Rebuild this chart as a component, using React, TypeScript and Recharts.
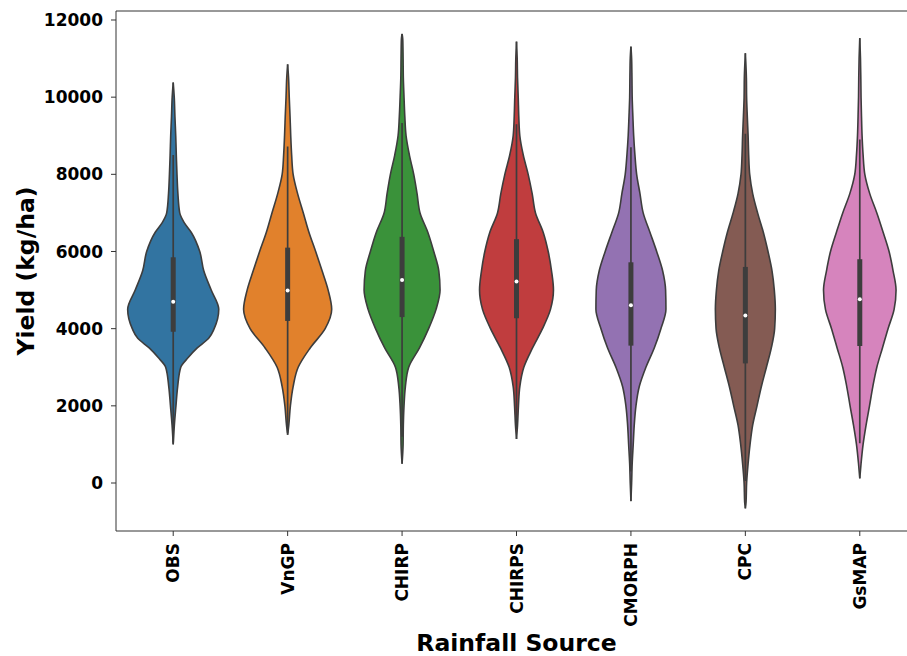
import { ComposedChart, Area, XAxis, YAxis, ReferenceLine, ReferenceDot, Label } from 'recharts'

const sources = ['OBS', 'VnGP', 'CHIRP', 'CHIRPS', 'CMORPH', 'CPC', 'GsMAP']
const colors = ['#3274a1', '#e1812c', '#3a923a', '#c03d3e', '#9372b2', '#845b53', '#d684bd']
const yieldTicks = [0, 2000, 4000, 6000, 8000, 10000, 12000]

// violin outlines: yield level (kg/ha) and half width (fraction of one category slot)
const obsYield = [10380, 10000, 9500, 9000, 8500, 8000, 7500, 7000, 6750, 6500, 6000, 5500, 5000, 4500, 4000, 3750, 3500, 3250, 3000, 2500, 2000, 1500, 1000]
const obsWidth = [0, 0.009, 0.015, 0.022, 0.027, 0.033, 0.041, 0.057, 0.096, 0.157, 0.232, 0.267, 0.332, 0.398, 0.358, 0.31, 0.21, 0.131, 0.066, 0.039, 0.024, 0.01, 0]

const vngpYield = [10850, 10500, 10000, 9500, 9000, 8500, 8000, 7500, 7000, 6500, 6000, 5500, 5000, 4500, 4000, 3500, 3000, 2500, 2000, 1500, 1250]
const vngpWidth = [0, 0.008, 0.014, 0.021, 0.027, 0.035, 0.048, 0.087, 0.137, 0.186, 0.245, 0.301, 0.354, 0.385, 0.328, 0.197, 0.092, 0.048, 0.024, 0.01, 0]

const chirpYield = [11640, 11500, 11000, 10500, 10000, 9500, 9000, 8500, 8000, 7500, 7000, 6500, 6000, 5500, 5000, 4500, 4000, 3500, 3000, 2500, 2000, 1500, 1000, 500]
const chirpWidth = [0, 0.006, 0.009, 0.011, 0.017, 0.024, 0.035, 0.064, 0.102, 0.131, 0.157, 0.225, 0.277, 0.321, 0.332, 0.297, 0.232, 0.152, 0.058, 0.029, 0.017, 0.011, 0.009, 0]

const chirpsYield = [11440, 11000, 10500, 10000, 9500, 9000, 8500, 8000, 7500, 7000, 6500, 6000, 5500, 5000, 4500, 4000, 3500, 3000, 2500, 2000, 1500, 1140]
const chirpsWidth = [0, 0.006, 0.009, 0.015, 0.02, 0.029, 0.059, 0.102, 0.137, 0.166, 0.233, 0.277, 0.306, 0.323, 0.297, 0.227, 0.14, 0.064, 0.029, 0.017, 0.009, 0]

const cmorphYield = [11310, 11000, 10500, 10000, 9500, 9000, 8500, 8000, 7500, 7000, 6500, 6000, 5500, 5000, 4500, 4000, 3500, 3000, 2500, 2000, 1500, 1000, 500, 0, -470]
const cmorphWidth = [0, 0.006, 0.009, 0.011, 0.017, 0.024, 0.035, 0.05, 0.079, 0.107, 0.166, 0.225, 0.277, 0.303, 0.306, 0.262, 0.204, 0.131, 0.073, 0.044, 0.029, 0.02, 0.011, 0.006, 0]

const cpcYield = [11140, 10500, 10000, 9500, 9000, 8500, 8000, 7500, 7000, 6500, 6000, 5500, 5000, 4500, 4000, 3500, 3000, 2500, 2000, 1500, 1000, 500, 0, -500, -660]
const cpcWidth = [0, 0.009, 0.011, 0.017, 0.024, 0.029, 0.038, 0.064, 0.107, 0.157, 0.198, 0.233, 0.253, 0.262, 0.256, 0.227, 0.184, 0.14, 0.102, 0.064, 0.041, 0.024, 0.011, 0.006, 0]

const gsmapYield = [11530, 11000, 10500, 10000, 9500, 9000, 8500, 8000, 7500, 7000, 6500, 6000, 5500, 5000, 4500, 4000, 3500, 3000, 2500, 2000, 1500, 1000, 500, 120]
const gsmapWidth = [0, 0.006, 0.009, 0.011, 0.015, 0.02, 0.029, 0.044, 0.087, 0.149, 0.204, 0.256, 0.291, 0.317, 0.3, 0.247, 0.198, 0.149, 0.114, 0.085, 0.055, 0.029, 0.011, 0]

// inner box plot stats (kg/ha)
const whiskerLow = [1050, 1300, 1200, 1400, 300, 50, 1030]
const q1 = [3920, 4200, 4300, 4270, 3560, 3100, 3550]
const median = [4700, 4990, 5260, 5220, 4610, 4340, 4760]
const q3 = [5850, 6100, 6380, 6320, 5720, 5600, 5800]
const whiskerHigh = [8500, 8720, 9330, 9300, 8700, 9050, 8900]

const profiles: [number[], number[]][] = [
  [obsYield, obsWidth],
  [vngpYield, vngpWidth],
  [chirpYield, chirpWidth],
  [chirpsYield, chirpsWidth],
  [cmorphYield, cmorphWidth],
  [cpcYield, cpcWidth],
  [gsmapYield, gsmapWidth],
]

const allYields = Array.from(new Set(profiles.flatMap(p => p[0]))).sort((a, b) => b - a)
const tableData = allYields.map(y => {
  const row: Record<string, any> = { y }
  profiles.forEach(([ys, ws], i) => {
    const k = ys.indexOf(y)
    row[`v${i}`] = k >= 0 ? [i - ws[k], i + ws[k]] : [null, null]
  })
  return row
})

const FONT = 'DejaVu Sans'
const EDGE = '#3d3d3d'

function SourceTick({ x, y, payload }: any) {
  return (
    <text
      x={x}
      y={y}
      transform={`rotate(-90, ${x}, ${y})`}
      textAnchor="end"
      dominantBaseline="central"
      fontSize={17}
      fontWeight="bold"
      fill="#000"
      fontFamily={FONT}
    >
      {sources[payload.value]}
    </text>
  )
}

function YTitle({ viewBox }: any) {
  const cx = viewBox.x + 26
  const cy = viewBox.y + viewBox.height / 2
  return (
    <text
      x={cx}
      y={cy}
      transform={`rotate(-90, ${cx}, ${cy})`}
      textAnchor="middle"
      dominantBaseline="central"
      fontSize={23.5}
      fontWeight="bold"
      fill="#000"
      fontFamily={FONT}
    >
      Yield (kg/ha)
    </text>
  )
}

function XTitle({ viewBox }: any) {
  return (
    <text
      x={viewBox.x + viewBox.width / 2}
      y={viewBox.y + 120}
      textAnchor="middle"
      fontSize={23.5}
      fontWeight="bold"
      fill="#000"
      fontFamily={FONT}
    >
      Rainfall Source
    </text>
  )
}

export default function App() {
  return (
    <div style={{ position: 'fixed', left: 0, top: 0, width: 907, height: 656, overflow: 'hidden', background: '#fff' }}>
      <ComposedChart
        width={930}
        height={656}
        data={tableData}
        layout="vertical"
        margin={{ top: 10, right: 13, bottom: 0, left: 0 }}
        style={{ fontFamily: FONT }}
      >
        <XAxis
          type="number"
          domain={[-0.5, 6.5]}
          allowDataOverflow
          ticks={[0, 1, 2, 3, 4, 5, 6]}
          height={125}
          tick={<SourceTick />}
          tickSize={5}
          tickMargin={7}
          stroke="#333"
          interval={0}
        >
          <Label content={<XTitle />} />
        </XAxis>
        {/* top spine */}
        <XAxis
          xAxisId="top"
          orientation="top"
          type="number"
          domain={[-0.5, 6.5]}
          allowDataOverflow
          height={1}
          tick={false}
          tickLine={false}
          stroke="#333"
        />
        <YAxis
          type="number"
          dataKey="y"
          domain={[-1244, 12233]}
          allowDataOverflow
          reversed
          ticks={yieldTicks}
          width={116}
          tick={{ fontSize: 17, fontWeight: 'bold', fill: '#000', fontFamily: FONT }}
          tickSize={5}
          tickMargin={8}
          stroke="#333"
          interval={0}
        >
          <Label content={<YTitle />} />
        </YAxis>
        {sources.map((s, i) => (
          <Area
            key={s}
            dataKey={`v${i}`}
            type="monotone"
            fill={colors[i]}
            fillOpacity={1}
            stroke={EDGE}
            strokeWidth={1.6}
            connectNulls
            dot={false}
            activeDot={false}
            isAnimationActive={false}
          />
        ))}
        {sources.map((s, i) => (
          <ReferenceLine
            key={`w-${s}`}
            segment={[{ x: i, y: whiskerLow[i] }, { x: i, y: whiskerHigh[i] }]}
            stroke={EDGE}
            strokeWidth={1.7}
          />
        ))}
        {sources.map((s, i) => (
          <ReferenceLine
            key={`b-${s}`}
            segment={[{ x: i, y: q1[i] }, { x: i, y: q3[i] }]}
            stroke={EDGE}
            strokeWidth={5}
          />
        ))}
        {sources.map((s, i) => (
          <ReferenceDot key={`m-${s}`} x={i} y={median[i]} r={2} fill="#fff" stroke="none" />
        ))}
      </ComposedChart>
    </div>
  )
}
